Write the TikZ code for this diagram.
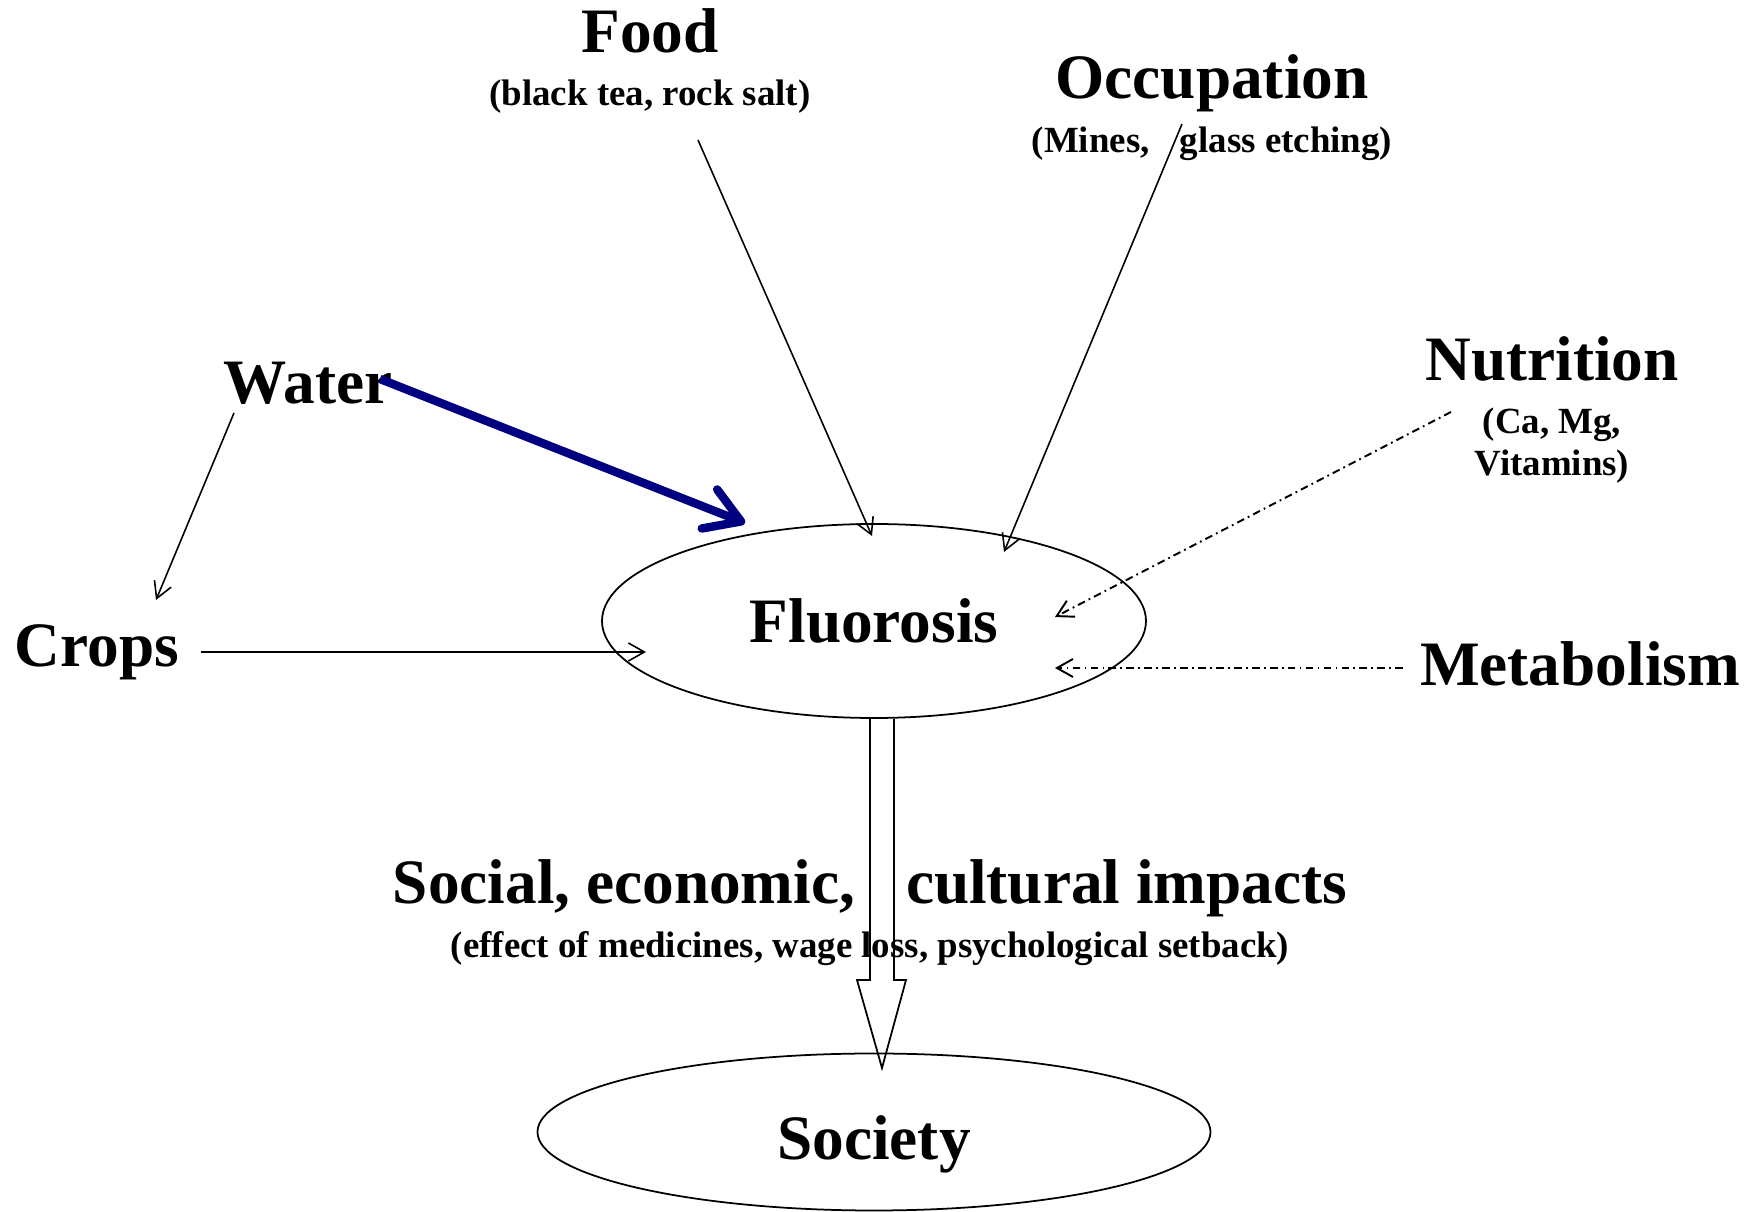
\documentclass[tikz,border=0pt]{standalone}
\usepackage{fontspec}
\setmainfont{Liberation Serif}
\usepackage{xcolor}
\usetikzlibrary{arrows.meta,shapes.geometric}
\definecolor{waterblue}{RGB}{0,0,128}

\begin{document}
\begin{tikzpicture}[x=0.1mm, y=-0.1mm,
  title/.style={font={\bfseries\fontsize{18}{20}\selectfont}, inner sep=0pt, anchor=base},
  subtitle/.style={font={\bfseries\fontsize{10.5}{12}\selectfont}, inner sep=0pt, anchor=base},
  oval/.style={draw, ellipse, line width=0.5pt, inner sep=0pt, text depth=0pt, font={\bfseries\fontsize{18}{20}\selectfont}},
  feed/.style={line width=0.45pt, -{Straight Barb[length=1.6mm,width=1.8mm]}},
  weakfeed/.style={feed, line width=0.55pt, dash pattern=on 2.2pt off 1.2pt on 0.5pt off 1.2pt}]
\useasboundingbox (0,0) rectangle (1758,1212);

\node[oval, minimum width=54.4mm, minimum height=19.4mm] (fluor) at (874,621) {Fluorosis};
\node[oval, minimum width=67.3mm, minimum height=15.7mm, text height=15.5pt] (soc) at (874,1132) {Society};

\node[title] (food) at (650,53) {Food};
\node[subtitle] (foodsub) at (650,106) {(black tea, rock salt)};
\node[title] (occ) at (1212,99) {Occupation};
\node[subtitle] (occsub) at (1212,153) {(Mines, \hspace{6pt}glass etching)};
\node[title] (nutr) at (1552,381) {Nutrition};
\node[subtitle] (nutrsub) at (1552,434) {(Ca, Mg,};
\node[subtitle] (vit) at (1552,476) {Vitamins)};
\node[title] (water) at (308,404) {Water};
\node[title] (crops) at (97,667) {Crops};
\node[title] (metab) at (1580,686) {Metabolism};
\node[title] (impact) at (870,904) {Social, economic, \hspace{10pt}cultural impacts};
\node[subtitle] (impactsub) at (870,958) {(effect of medicines, wage loss, psychological setback)};

\coordinate (food out) at (698,140);
\coordinate (food in) at (872,536);
\coordinate (occ out) at (1182,124);
\coordinate (occ in) at (1004,552);
\coordinate (water out) at (380,379);
\coordinate (water in) at (745,523);
\coordinate (water low) at (234,413);
\coordinate (crops top) at (156,600);
\coordinate (crops out) at (201,652);
\coordinate (crops in) at (646,652);
\coordinate (nutr out) at (1451,412);
\coordinate (nutr in) at (1055,617);
\coordinate (metab out) at (1403,668);
\coordinate (metab in) at (1055,668);
\coordinate (shaft top) at (882,719);
\coordinate (shaft tip) at (882,1068);

\draw[feed] (food out) -- (food in);
\draw[feed] (occ out) -- (occ in);
\draw[feed] (water low) -- (crops top);
\draw[feed] (crops out) -- (crops in);
\draw[weakfeed] (nutr out) -- (nutr in);
\draw[weakfeed] (metab out) -- (metab in);
\draw[waterblue, line width=2.4pt, -{Straight Barb[length=3.4mm,width=4.2mm,round]}] (water out) -- (water in);
\draw[line width=0.5pt] (shaft top) ++(-12,0) -- ++(0,261) -- ++(-13,0) -- (shaft tip) -- ++(24,-88) -- ++(-12,0) -- ++(0,-261);
\end{tikzpicture}
\end{document}
